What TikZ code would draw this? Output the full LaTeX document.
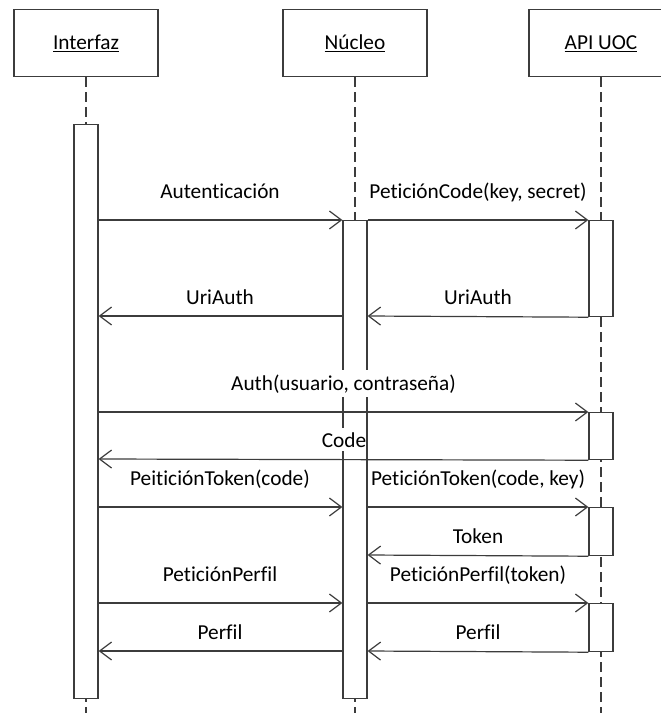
\documentclass[tikz,border=0pt]{standalone}
\usepackage{fontspec}
\setmainfont{Carlito}[Ligatures=NoCommon]
\usetikzlibrary{arrows.meta}
\definecolor{ink}{HTML}{3C3C3C}
\begin{document}
\begin{tikzpicture}[x=1pt, y=-1pt, line width=1.2pt,
  every node/.style={font=\fontsize{21.3}{25}\selectfont, text=black},
  header/.style={draw=ink, fill=white, minimum width=144pt, minimum height=67pt,
    anchor=north, inner sep=0pt, text height=17pt, text depth=4pt},
  lifeline/.style={draw=ink, dash pattern=on 10pt off 5pt},
  activation/.style={draw=ink, fill=white, minimum width=24pt, anchor=north, inner sep=0pt},
  msg/.style={draw=ink, -{Straight Barb[length=12pt, width=18pt, line width=1.2pt]}},
  msglabel/.style={inner xsep=0pt, inner ysep=3pt, anchor=base},
  masked/.style={msglabel, fill=white, inner ysep=4pt},
]
\clip (0,0) rectangle (661,713);

% participants
\node[header] (hI) at (86,9)  {\underline{Interfaz}};
\node[header] (hN) at (355,9) {\underline{Núcleo}};
\node[header] (hA) at (601,9) {\underline{API UOC}};

% lifelines
\coordinate (eI) at (86,713);
\coordinate (eN) at (355,713);
\coordinate (eA) at (601,713);
\draw[lifeline] (hI.south) -- (eI);
\draw[lifeline] (hN.south) -- (eN);
\draw[lifeline] (hA.south) -- (eA);

% activation bars
\node[activation, minimum height=574pt] (actI)  at (86,124)  {};
\node[activation, minimum height=478pt] (actN)  at (355,220) {};
\node[activation, minimum height=96pt]  (actA1) at (601,220) {};
\node[activation, minimum height=47pt]  (actA2) at (601,412) {};
\node[activation, minimum height=48pt]  (actA3) at (601,507) {};
\node[activation, minimum height=48pt]  (actA4) at (601,603) {};

% message levels
\coordinate (m1) at (0,220);
\coordinate (m2) at (0,316);
\coordinate (m3) at (0,412);
\coordinate (m4) at (0,459);
\coordinate (m5) at (0,507);
\coordinate (m6) at (0,555);
\coordinate (m7) at (0,603);
\coordinate (m8) at (0,651);

% messages
\draw[msg] (actI.east |- m1) -- (actN.north west);
\draw[msg] (actN.north east) -- (actA1.north west);
\draw[msg] (actA1.south west) -- (actN.east |- m2);
\draw[msg] (actN.west |- m2) -- (actI.east |- m2);
\draw[msg] (actI.east |- m3) -- (actA2.north west);
\draw[msg] (actA2.south west) -- (actI.east |- m4);
\draw[msg] (actI.east |- m5) -- (actN.west |- m5);
\draw[msg] (actN.east |- m5) -- (actA3.north west);
\draw[msg] (actA3.south west) -- (actN.east |- m6);
\draw[msg] (actI.east |- m7) -- (actN.west |- m7);
\draw[msg] (actN.east |- m7) -- (actA4.north west);
\draw[msg] (actA4.south west) -- (actN.east |- m8);
\draw[msg] (actN.west |- m8) -- (actI.east |- m8);

% message labels
\node[msglabel] (t1)  at (220,198) {Autenticación};
\node[msglabel] (t2)  at (478,198) {PeticiónCode(key, secret)};
\node[msglabel] (t3)  at (478,304) {UriAuth};
\node[msglabel] (t4)  at (220,304) {UriAuth};
\node[masked]   (t5)  at (343.5,390) {Auth(usuario, contraseña)};
\node[masked]   (t6)  at (344,447) {Code};
\node[msglabel] (t7)  at (220,485) {PeiticiónToken(code)};
\node[msglabel] (t8)  at (478,485) {PeticiónToken(code, key)};
\node[msglabel] (t9)  at (478,543) {Token};
\node[msglabel] (t10) at (220,581) {PeticiónPerfil};
\node[msglabel] (t11) at (478,581) {PeticiónPerfil(token)};
\node[msglabel] (t12) at (478,639) {Perfil};
\node[msglabel] (t13) at (220,639) {Perfil};
\end{tikzpicture}
\end{document}
